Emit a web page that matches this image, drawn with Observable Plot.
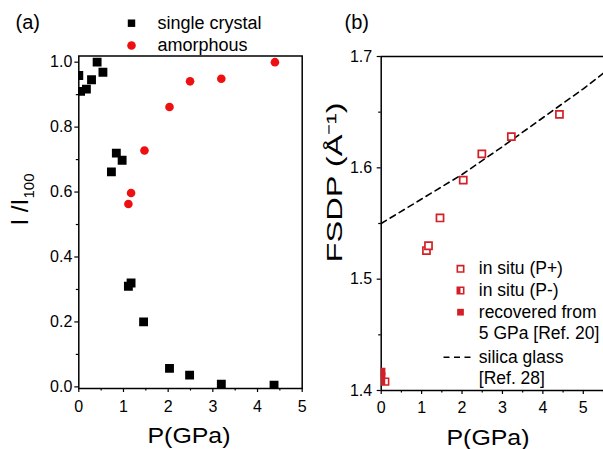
<!DOCTYPE html>
<html><head><meta charset="utf-8">
<script src="https://cdn.jsdelivr.net/npm/d3@7"></script>
<script src="https://cdn.jsdelivr.net/npm/@observablehq/plot@0.6"></script>
<style>
body{margin:0;background:#fff;}
#wrap{position:relative;width:603px;height:449px;overflow:hidden;background:#fff;}
#wrap svg{position:absolute;top:0;overflow:visible;}
</style></head><body><div id="wrap"></div>
<script>
// ---- Panel (a) data ----
const singleP = [0.00, 0.04, 0.17, 0.285, 0.41, 0.54, 0.73, 0.84, 0.97, 1.11, 1.17, 1.45, 2.03, 2.48, 3.19, 4.37];
const singleI = [0.959, 0.910, 0.917, 0.946, 1.000, 0.969, 0.662, 0.720, 0.698, 0.310, 0.320, 0.200, 0.057, 0.036, 0.008, 0.005];
const amorphP = [1.11, 1.17, 1.47, 2.03, 2.49, 3.19, 4.39];
const amorphI = [0.563, 0.597, 0.728, 0.862, 0.941, 0.949, 1.000];
const xTicksA = [0, 1, 2, 3, 4, 5];
const xMinorA = [0.5, 1.5, 2.5, 3.5, 4.5];
const yTicksA = [0, 0.2, 0.4, 0.6, 0.8, 1.0];
const yMinorA = [0.1, 0.3, 0.5, 0.7, 0.9];
const legendA = ["single crystal", "amorphous"];

// ---- Panel (b) data ----
const plusP = [1.12, 1.17, 1.455, 2.03, 2.49, 3.22, 4.41];
const plusF = [1.5257, 1.5300, 1.5550, 1.5890, 1.6125, 1.6280, 1.6480];
const minusP = [0.10];
const minusF = [1.408];
const recP = [0.01, 0.01];
const recF = [1.417, 1.413];
const glassP = [0, 1, 2, 3, 4, 5, 5.5];
const glassF = [1.550, 1.572, 1.594, 1.619, 1.645, 1.671, 1.685];
const xTicksB = [0, 1, 2, 3, 4, 5];
const xMinorB = [0.5, 1.5, 2.5, 3.5, 4.5, 5.5];
const yTicksB = [1.4, 1.5, 1.6, 1.7];
const yMinorB = [1.45, 1.55, 1.65];
const legendB = ["in situ (P+)", "in situ (P-)", "recovered from", "5 GPa [Ref. 20]", "silica glass", "[Ref. 28]"];

const FONT = "'Liberation Sans', Arial, sans-serif";
const RED_B = "#d41f27";
const RED_A = "#ee1010";

const halfLeft = {draw(ctx, size) {const s = Math.sqrt(size) / 2; ctx.moveTo(-s, -s); ctx.lineTo(0, -s); ctx.lineTo(0, s); ctx.lineTo(-s, s); ctx.closePath();}};
const dashSym = {draw(ctx) {ctx.moveTo(-15, 0); ctx.lineTo(15, 0);}};

const single = singleP.map((p, i) => ({p, v: singleI[i]}));
const amorph = amorphP.map((p, i) => ({p, v: amorphI[i]}));
const plus = plusP.map((p, i) => ({p, v: plusF[i]}));
const minus = minusP.map((p, i) => ({p, v: minusF[i]}));
const rec = recP.map((p, i) => ({p, v: recF[i]}));
const glass = glassP.map((p, i) => ({p, v: glassF[i]}));

// frame geometry of panel (a)
const A = {w: 318, ml: 78.3, mr: 16.3, mt: 55.5, mb: 61};
const midA = (A.mt + 388) / 2;
const plotA = Plot.plot({
  width: A.w, height: 449,
  marginLeft: A.ml, marginRight: A.mr, marginTop: A.mt, marginBottom: A.mb,
  style: {background: "transparent", fontFamily: FONT, overflow: "visible", color: "black"},
  x: {domain: [0, 5], axis: null},
  y: {domain: [-0.005, 1.019], axis: null},
  marks: [
    Plot.axisX(xTicksA, {tickSize: 4, tickPadding: 8.5, fontSize: 16, label: null, strokeWidth: 1.2, tickFormat: d => String(d)}),
    Plot.axisX(xMinorA, {tickSize: 2.5, label: null, strokeWidth: 1.2, tickFormat: () => ""}),
    Plot.axisY(yTicksA, {tickSize: 4, tickPadding: 2.5, fontSize: 16, label: null, strokeWidth: 1.2, tickFormat: d3.format(".1f")}),
    Plot.axisY(yMinorA, {tickSize: 2.5, label: null, strokeWidth: 1.2, tickFormat: () => ""}),
    Plot.frame({stroke: "black", strokeWidth: 1.5}),
    Plot.dot(single, {x: "p", y: "v", symbol: "square", r: 5, fill: "black", clip: true}),
    Plot.dot(amorph, {x: "p", y: "v", r: 4.3, fill: RED_A, clip: true}),
    // legend
    Plot.dot([legendA[0]], {frameAnchor: "top-left", dx: 131 - A.ml, dy: 22.7 - A.mt, symbol: "square", r: 4.2, fill: "black"}),
    Plot.dot([legendA[1]], {frameAnchor: "top-left", dx: 131 - A.ml, dy: 45 - A.mt, r: 4.3, fill: RED_A}),
    ...legendA.map((s, i) => Plot.text([s], {text: d => d, frameAnchor: "top-left", dx: 157 - A.ml, dy: [22.7, 45][i] - A.mt, textAnchor: "start", lineAnchor: "middle", fontSize: 18})),
    // titles
    Plot.text(["(a)"], {text: d => d, frameAnchor: "top-left", dx: 15 - A.ml, dy: 22 - A.mt, textAnchor: "start", lineAnchor: "middle", fontSize: 20}),
    Plot.text(["P(GPa)"], {text: d => d, frameAnchor: "bottom-left", dx: 147 - A.ml, dy: 47, textAnchor: "start", lineAnchor: "middle", fontSize: 22}),
    Plot.text(["I /I"], {text: d => d, frameAnchor: "left", dx: 20.3 - A.ml, dy: 225 - midA, rotate: -90, lineAnchor: "middle", fontSize: 24}),
    Plot.text(["100"], {text: d => d, frameAnchor: "left", dx: 28.5 - A.ml, dy: 198 - midA, rotate: -90, textAnchor: "start", lineAnchor: "middle", fontSize: 15})
  ]
});

// frame geometry of panel (b)
const B = {left: 318, w: 285, ml: 62.7, mr: 0, mt: 56, mb: 59};
const frameLeftB = B.left + B.ml;
const midB = (B.mt + 390) / 2;
const legendRows = [268.3, 290, 311.7, 333.3, 356.7, 378.3];
const plotB = Plot.plot({
  width: B.w, height: 449,
  marginLeft: B.ml, marginRight: B.mr, marginTop: B.mt, marginBottom: B.mb,
  style: {background: "transparent", fontFamily: FONT, overflow: "visible", color: "black"},
  x: {domain: [0, 5.5], axis: null},
  y: {domain: [1.4, 1.7], axis: null},
  marks: [
    Plot.axisX(xTicksB, {tickSize: 4, tickPadding: 7.5, fontSize: 16, label: null, strokeWidth: 1.2, tickFormat: d => String(d)}),
    Plot.axisX(xMinorB, {tickSize: 2.5, label: null, strokeWidth: 1.2, tickFormat: () => ""}),
    Plot.axisY(yTicksB, {tickSize: 4, tickPadding: 5, fontSize: 16, label: null, strokeWidth: 1.2, tickFormat: d3.format(".1f")}),
    Plot.axisY(yMinorB, {tickSize: 2.5, label: null, strokeWidth: 1.2, tickFormat: () => ""}),
    Plot.ruleX([xTicksB[0]], {stroke: "black", strokeWidth: 1.5}),
    Plot.ruleY([yTicksB[0], yTicksB[yTicksB.length - 1]], {stroke: "black", strokeWidth: 1.5}),
    Plot.line(glass, {x: "p", y: "v", stroke: "black", strokeWidth: 1.6, strokeDasharray: "6,4.5"}),
    Plot.dot(rec, {x: "p", y: "v", symbol: "square", r: 4.3, fill: RED_B, clip: true}),
    Plot.dot(minus, {x: "p", y: "v", symbol: "square", r: 3.8, fill: "white", stroke: RED_B, strokeWidth: 1.6, clip: true}),
    Plot.dot(minus, {x: "p", y: "v", symbol: halfLeft, r: 3.8, fill: RED_B, clip: true}),
    Plot.dot(plus, {x: "p", y: "v", symbol: "square", r: 4.0, fill: "white", stroke: RED_B, strokeWidth: 1.7}),
    // legend markers
    Plot.dot([legendB[0]], {frameAnchor: "top-left", dx: 460 - frameLeftB, dy: legendRows[0] - B.mt, symbol: "square", r: 3.6, fill: "white", stroke: RED_B, strokeWidth: 1.6}),
    Plot.dot([legendB[1]], {frameAnchor: "top-left", dx: 460 - frameLeftB, dy: legendRows[1] - B.mt, symbol: "square", r: 3.6, fill: "white", stroke: RED_B, strokeWidth: 1.6}),
    Plot.dot([legendB[1]], {frameAnchor: "top-left", dx: 460 - frameLeftB, dy: legendRows[1] - B.mt, symbol: halfLeft, r: 3.6, fill: RED_B}),
    Plot.dot([legendB[2]], {frameAnchor: "top-left", dx: 460 - frameLeftB, dy: legendRows[2] - B.mt, symbol: "square", r: 3.8, fill: RED_B}),
    Plot.dot([legendB[4]], {frameAnchor: "top-left", dx: 458 - frameLeftB, dy: legendRows[4] - B.mt, symbol: dashSym, r: 4, fill: "none", stroke: "black", strokeWidth: 1.6, strokeDasharray: "6,4.5"}),
    ...legendB.map((s, i) => Plot.text([s], {text: d => d, frameAnchor: "top-left", dx: 478.3 - frameLeftB, dy: legendRows[i] - B.mt, textAnchor: "start", lineAnchor: "middle", fontSize: 17.5})),
    // titles
    Plot.text(["(b)"], {text: d => d, frameAnchor: "top-left", dx: 344 - frameLeftB, dy: 22 - B.mt, textAnchor: "start", lineAnchor: "middle", fontSize: 20}),
    Plot.text(["P(GPa)"], {text: d => d, frameAnchor: "bottom-left", dx: 446 - frameLeftB, dy: 47, textAnchor: "start", lineAnchor: "middle", fontSize: 22}),
    Plot.text(["FSDP (Å⁻¹)"], {text: d => d, frameAnchor: "left", dx: 334.5 - frameLeftB, dy: 262 - midB, rotate: -90, textAnchor: "start", lineAnchor: "middle", fontSize: 22})
  ]
});
plotA.style.left = "0px";
plotB.style.left = B.left + "px";
const wrap = document.getElementById("wrap");
wrap.appendChild(plotA);
wrap.appendChild(plotB);

function stretch(svg, content, len) {
  svg.querySelectorAll("text").forEach(t => {
    if (t.textContent === content) {
      t.setAttribute("textLength", len);
      t.setAttribute("lengthAdjust", "spacingAndGlyphs");
    }
  });
}
stretch(plotA, "P(GPa)", 83);
stretch(plotB, "P(GPa)", 83);
stretch(plotB, "FSDP (Å⁻¹)", 160);
</script></body></html>
